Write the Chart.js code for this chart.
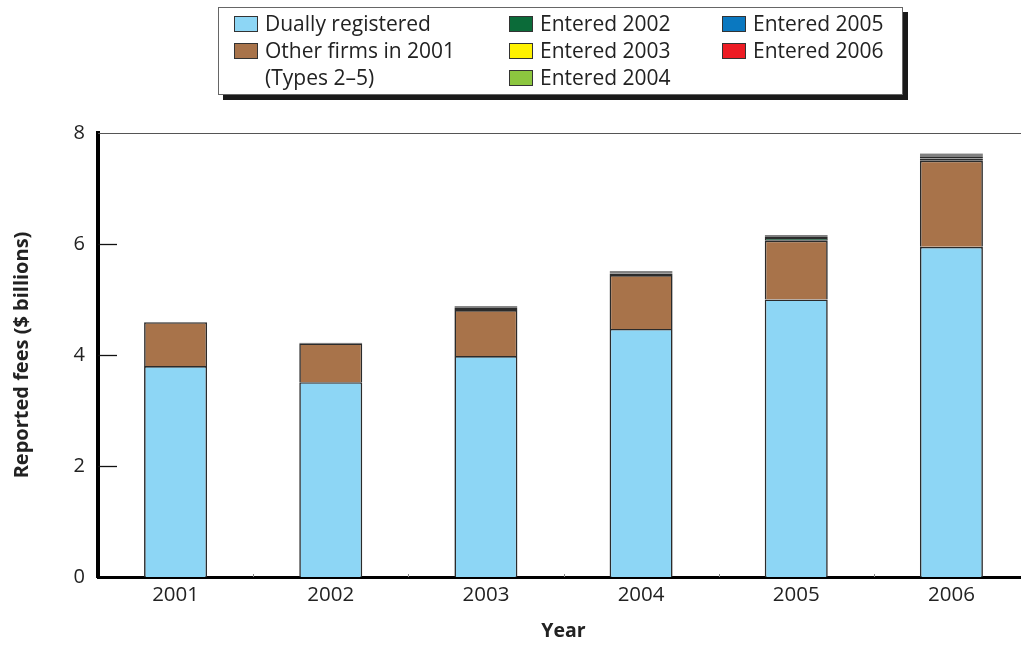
<!DOCTYPE html>
<html>
<head>
<meta charset="utf-8">
<script src="https://cdn.jsdelivr.net/npm/chart.js@4"></script>
<style>
  html, body { margin: 0; padding: 0; background: #fff; overflow: hidden; width: 1021px; height: 645px; }
  #wrap { position: absolute; left: 0; top: 0; width: 1029px; height: 645px; }
  #legend {
    position: absolute; left: 218px; top: 7px; width: 683px; height: 86px;
    border: 1px solid #666; background: #fff; box-shadow: 5px 5px 0 #1a1a1a;
    font-family: "Open Sans", sans-serif; font-size: 21px; color: #222; z-index: 2;
  }
  .item { position: absolute; display: flex; align-items: flex-start; line-height: 27px; white-space: pre; }
  .sw { width: 24px; height: 16px; border: 1px solid #333; margin-top: 6px; margin-right: 7px; box-sizing: border-box; flex: none; }
</style>
</head>
<body>
<div id="wrap"><canvas id="c" width="1029" height="645"></canvas></div>
<div id="legend"></div>
<script>
// Reported fees by year, $ billions
const years = ['2001', '2002', '2003', '2004', '2005', '2006'];
const duallyRegistered = [3.80, 3.51, 3.98, 4.47, 5.00, 5.95];
const otherFirms2001   = [0.79, 0.70, 0.83, 0.97, 1.06, 1.55];
const entered2002      = [0, 0.01, 0.04, 0.03, 0.05, 0.04];
const entered2003      = [0, 0, 0.03, 0.02, 0.02, 0.03];
const entered2004      = [0, 0, 0, 0.02, 0.02, 0.02];
const entered2005      = [0, 0, 0, 0, 0.01, 0.02];
const entered2006      = [0, 0, 0, 0, 0, 0.02];
const yTicks = [0, 2, 4, 6, 8];

const seriesNames = ['Dually registered', 'Other firms in 2001\n(Types 2\u20135)',
  'Entered 2002', 'Entered 2003', 'Entered 2004', 'Entered 2005', 'Entered 2006'];
const seriesValues = [duallyRegistered, otherFirms2001, entered2002, entered2003,
  entered2004, entered2005, entered2006];
const seriesColors = ['#8dd6f5', '#a8734a', '#0b6b39', '#fff200', '#8cc63f', '#0a78c0', '#ed1c24'];

// legend: three columns, stacked rows
const legendSlots = [[15, 8], [15, 35], [290, 8], [290, 35], [290, 62], [503, 8], [503, 35]];
const legendEl = document.getElementById('legend');
seriesNames.forEach((name, i) => {
  const it = document.createElement('div');
  it.className = 'item';
  it.style.left = legendSlots[i][0] + 'px';
  it.style.top = (legendSlots[i][1] - 6) + 'px';
  const sw = document.createElement('span');
  sw.className = 'sw';
  sw.style.background = seriesColors[i];
  const tx = document.createElement('span');
  tx.textContent = name;
  it.appendChild(sw); it.appendChild(tx);
  legendEl.appendChild(it);
});

const FONT = '"Open Sans", sans-serif';

const axisDecor = {
  id: 'axisDecor',
  afterDatasetsDraw(chart) {
    const { ctx, chartArea: a, scales: { x, y } } = chart;
    ctx.save();
    // thin frame line along the top
    ctx.strokeStyle = '#555';
    ctx.lineWidth = 1.2;
    ctx.beginPath();
    ctx.moveTo(a.left, Math.round(a.top) + 0.5);
    ctx.lineTo(a.right, Math.round(a.top) + 0.5);
    ctx.stroke();
    // inward y tick marks
    ctx.strokeStyle = '#111';
    ctx.lineWidth = 1.3;
    yTicks.slice(1, -1).forEach(v => {
      const py = Math.round(y.getPixelForValue(v)) + 0.5;
      ctx.beginPath();
      ctx.moveTo(a.left, py);
      ctx.lineTo(a.left + 19, py);
      ctx.stroke();
    });
    // small marks between categories on the x axis
    ctx.strokeStyle = '#888';
    ctx.lineWidth = 1;
    const half = (x.getPixelForValue(1) - x.getPixelForValue(0)) / 2;
    for (let i = 0; i < years.length - 1; i++) {
      const px = Math.round(x.getPixelForValue(i) + half) + 0.5;
      ctx.beginPath();
      ctx.moveTo(px, a.bottom - 3);
      ctx.lineTo(px, a.bottom);
      ctx.stroke();
    }
    ctx.restore();
  }
};

new Chart(document.getElementById('c'), {
  type: 'bar',
  data: {
    labels: years,
    datasets: seriesValues.map((vals, i) => ({
      label: seriesNames[i],
      data: vals.map(v => (v > 0 ? v : null)),
      backgroundColor: seriesColors[i],
      borderColor: '#2b2b2b',
      borderWidth: i < 2 ? 1.6 : 1.2,
      borderSkipped: i < 2 ? 'start' : false,
      barPercentage: 0.406,
      categoryPercentage: 1
    }))
  },
  options: {
    responsive: false,
    animation: false,
    devicePixelRatio: 1,
    layout: { padding: { top: 133, left: 0, right: 0, bottom: 0 } },
    plugins: { legend: { display: false }, tooltip: { enabled: false } },
    scales: {
      x: {
        stacked: true,
        grid: { display: false, drawTicks: false },
        border: { display: true, color: '#000', width: 3 },
        ticks: { color: '#222', font: { family: FONT, size: 20.5 }, padding: 6 },
        title: { display: true, text: 'Year', color: '#222', font: { family: FONT, size: 19.5, weight: 'bold' }, padding: { top: 0, bottom: 2 } },
        afterFit(s) { s.height = 68; }
      },
      y: {
        stacked: true,
        min: 0, max: 8,
        afterBuildTicks(s) { s.ticks = yTicks.map(v => ({ value: v })); },
        grid: { display: false, drawTicks: false },
        border: { display: true, color: '#000', width: 4 },
        ticks: { color: '#222', font: { family: FONT, size: 20 }, padding: 13 },
        title: { display: true, text: 'Reported fees ($ billions)', color: '#222', font: { family: FONT, size: 20, weight: 'bold' }, padding: { top: 10, bottom: 0 } },
        afterFit(s) { s.width = 98; }
      }
    }
  },
  plugins: [axisDecor]
});
</script>
</body>
</html>
